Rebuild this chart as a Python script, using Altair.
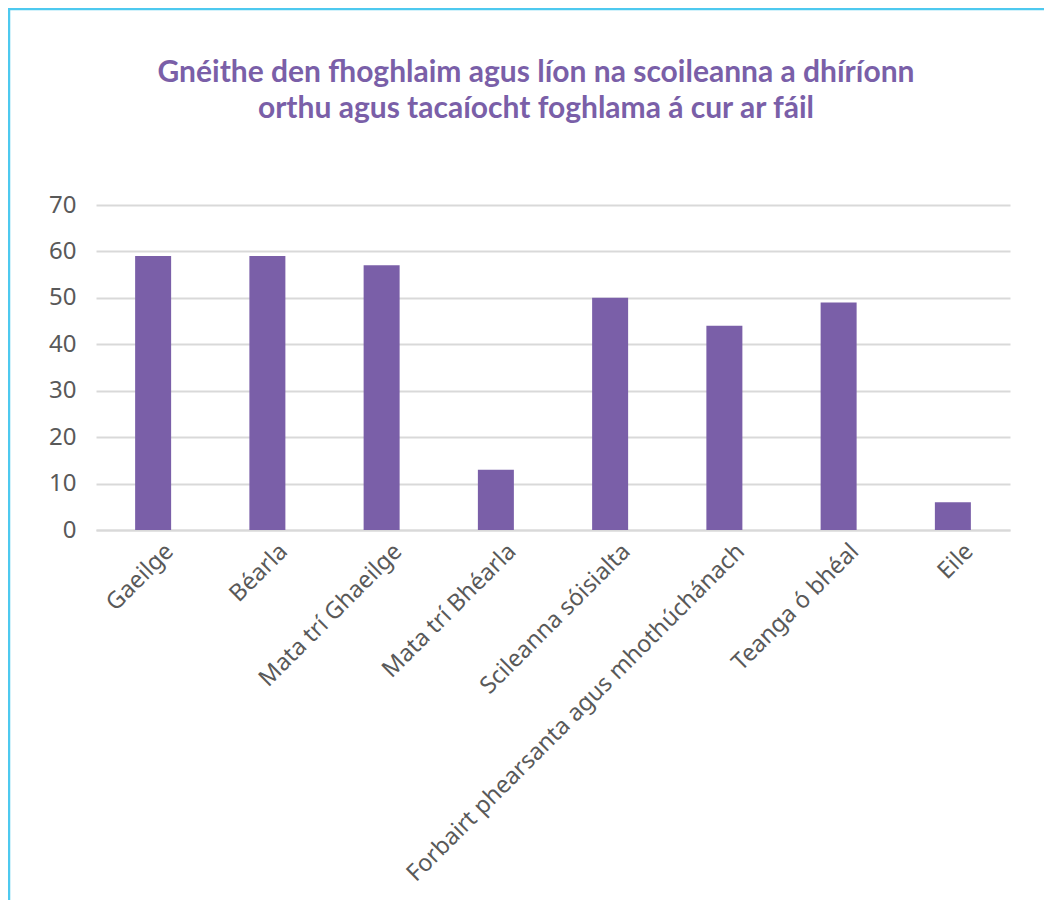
import altair as alt
import pandas as pd

categories = ["Gaeilge", "Béarla", "Mata trí Ghaeilge", "Mata trí Bhéarla",
              "Scileanna sóisialta", "Forbairt phearsanta agus mhothúchánach",
              "Teanga ó bhéal", "Eile"]
values = [59, 59, 57, 13, 50, 44, 49, 6]
y_ticks = [0, 10, 20, 30, 40, 50, 60, 70]
title_lines = ["Gnéithe den fhoghlaim agus líon na scoileanna a dhíríonn",
               "orthu agus tacaíocht foghlama á cur ar fáil"]

df = pd.DataFrame({"cat": categories, "val": values})

PURPLE = "#7A5FA8"
FONT = "Noto Sans"
TFONT = "Lato"

bars = alt.Chart(df).mark_bar(size=36, color=PURPLE).encode(
    x=alt.X("cat:N", sort=categories, title=None,
            scale=alt.Scale(paddingInner=0.2, paddingOuter=0.1),
            axis=alt.Axis(labelAngle=-45, labelAlign="right", labelBaseline="top",
                          labelFontSize=23.5, labelColor="#595959", labelFont=FONT,
                          labelPadding=9, labelOffset=8, ticks=False,
                          domainColor="#D9D9D9", domainWidth=2, labelLimit=700)),
    y=alt.Y("val:Q", title=None, scale=alt.Scale(domain=[0, 70]),
            axis=alt.Axis(values=y_ticks, labelFontSize=24, labelColor="#595959",
                          labelFont=FONT, labelPadding=20, ticks=False, domain=False,
                          gridColor="#D9D9D9", gridWidth=2)),
)

border = alt.Chart(alt.Data(values=[{}])).mark_rule(color="#4DC9EF", strokeWidth=2.5).encode(
    x=alt.value(-87), y=alt.value(-197), y2=alt.value(710)
)
border_top = alt.Chart(alt.Data(values=[{}])).mark_rule(color="#4DC9EF", strokeWidth=2.5).encode(
    x=alt.value(-88), x2=alt.value(960), y=alt.value(-196)
)

title1 = alt.Chart(alt.Data(values=[{"t": title_lines[0]}])).mark_text(
    font=TFONT, fontSize=30, fontWeight="bold", color=PURPLE, align="center",
    baseline="alphabetic").encode(text="t:N", x=alt.value(440), y=alt.value(-123))
title2 = alt.Chart(alt.Data(values=[{"t": title_lines[1]}])).mark_text(
    font=TFONT, fontSize=30, fontWeight="bold", color=PURPLE, align="center",
    baseline="alphabetic").encode(text="t:N", x=alt.value(440), y=alt.value(-87))

chart = alt.layer(bars, border, border_top, title1, title2).properties(
    width=914, height=325,
    autosize=alt.AutoSizeParams(type="none"),
    padding={"left": 88, "top": 197, "right": 34, "bottom": 370},
).configure(background="white").configure_view(stroke=None)

chart.save("out.html", embed_options={"renderer": "svg", "actions": False})
